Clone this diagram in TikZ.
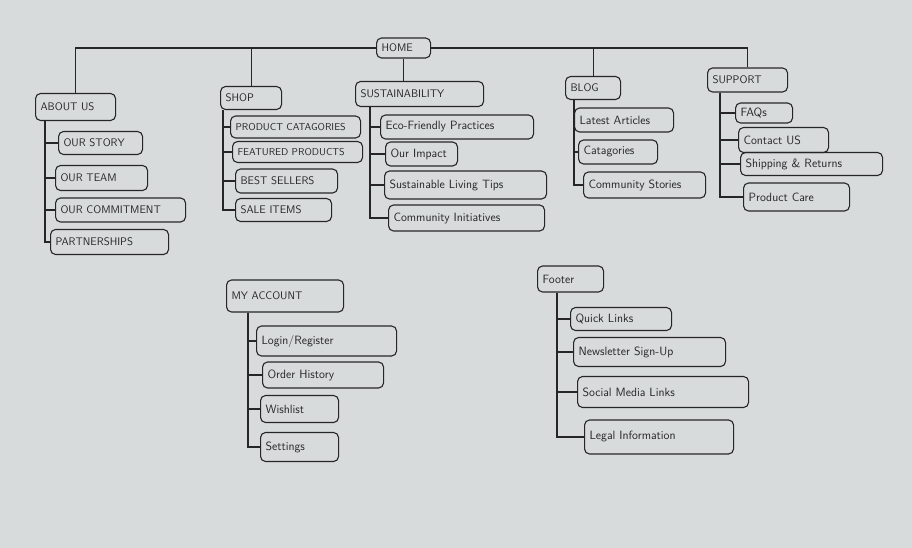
\documentclass[tikz,border=0pt]{standalone}
\usepackage{tikz}
\usetikzlibrary{positioning}
\definecolor{paper}{RGB}{216,219,219}
\definecolor{ink}{RGB}{38,38,38}
\tikzset{
  page/.style={draw=ink, rounded corners=5pt, line width=1.1pt, inner xsep=5pt, inner ysep=3pt, anchor=west, align=left, text=ink, font=\sffamily\fontsize{11}{13}\selectfont},
  wordy/.style={page, font=\sffamily\large},
  link/.style={draw=ink, line width=1.1pt}
}

\begin{document}
\begin{tikzpicture}[x=1pt, y=-1pt]
  \fill[paper] (0,0) rectangle (912,548);
  \useasboundingbox (0,0) rectangle (912,548);

  % Top level
  \node[page, text width=44, minimum height=20] (home) at (376,48) {HOME};
  \node[page, text width=70, minimum height=27] (aboutus) at (35,107) {ABOUT US};
  \node[page, text width=51, minimum height=23] (shop) at (220,98) {SHOP};
  \node[page, text width=118, minimum height=25] (sust) at (355,94) {SUSTAINABILITY};
  \node[page, text width=45, minimum height=23] (blog) at (565,88) {BLOG};
  \node[page, text width=70, minimum height=24] (support) at (707,80) {SUPPORT};

  \draw[link] (aboutus.north) |- (home.west);
  \draw[link] (shop.north) -- (shop.north |- home.west);
  \draw[link] (home) -- (home |- sust.north);
  \draw[link] (support.north) |- (home.east);
  \draw[link] (blog.north) -- (blog.north |- home.east);

  % About us
  \node[page, text width=74, minimum height=23] (ourstory) at (58,143) {OUR STORY};
  \node[page, text width=82, minimum height=25] (ourteam) at (55,178) {OUR TEAM};
  \node[page, text width=120, minimum height=24] (commit) at (55,210) {OUR COMMITMENT};
  \node[page, text width=108, minimum height=25] (partner) at (50,242) {PARTNERSHIPS};
  \foreach \c in {ourstory,ourteam,commit,partner}
    \draw[link] ([xshift=10]aboutus.south west) |- (\c.west);

  % Shop
  \node[page, font=\sffamily, text width=120, minimum height=22] (prodcat) at (230,127) {PRODUCT CATAGORIES};
  \node[page, font=\sffamily, text width=120, minimum height=21] (featured) at (232,152) {FEATURED PRODUCTS};
  \node[page, text width=92, minimum height=24] (best) at (235,181) {BEST SELLERS};
  \node[page, text width=86, minimum height=23] (sale) at (235,210) {SALE ITEMS};
  \foreach \c in {prodcat,featured,best,sale}
    \draw[link] ([xshift=3]shop.south west) |- (\c.west);

  % Sustainability
  \node[wordy, text width=143, minimum height=24] (eco) at (380,127) {Eco-Friendly Practices};
  \node[wordy, text width=62, minimum height=24] (impact) at (385,154) {Our Impact};
  \node[wordy, text width=152, minimum height=28] (tips) at (384,185) {Sustainable Living Tips};
  \node[wordy, text width=146, minimum height=26] (initiat) at (388,218) {Community Initiatives};
  \foreach \c in {eco,impact,tips,initiat}
    \draw[link] ([xshift=15]sust.south west) |- (\c.west);

  % Blog
  \node[wordy, text width=89, minimum height=24] (latest) at (574,120) {Latest Articles};
  \node[wordy, text width=69, minimum height=24] (categ) at (578,152) {Catagories};
  \node[wordy, text width=112, minimum height=26] (stories) at (583,185) {Community Stories};
  \foreach \c in {latest,categ,stories}
    \draw[link] ([xshift=9]blog.south west) |- (\c.west);

  % Support
  \node[wordy, text width=47, minimum height=20] (faqs) at (735,113) {FAQs};
  \node[wordy, text width=80, minimum height=25] (contact) at (738,140) {Contact US};
  \node[wordy, text width=132, minimum height=23] (shipping) at (740,164) {Shipping \& Returns};
  \node[wordy, text width=96, minimum height=28] (care) at (743,197) {Product Care};
  \foreach \c in {faqs,contact,shipping,care}
    \draw[link] ([xshift=13]support.south west) |- (\c.west);

  % My account
  \node[page, text width=107, minimum height=32] (account) at (226,296) {MY ACCOUNT};
  \node[wordy, text width=130, minimum height=30] (login) at (256,341) {Login/Register};
  \node[wordy, text width=111, minimum height=26] (orders) at (262,375) {Order History};
  \node[wordy, text width=68, minimum height=27] (wish) at (260,409) {Wishlist};
  \node[wordy, text width=68, minimum height=29] (settings) at (260,447) {Settings};
  \foreach \c in {login,orders,wish,settings}
    \draw[link] ([xshift=22]account.south west) |- (\c.west);

  % Footer
  \node[wordy, text width=56, minimum height=26] (footer) at (537,279) {Footer};
  \node[wordy, text width=91, minimum height=23] (quick) at (570,319) {Quick Links};
  \node[wordy, text width=142, minimum height=29] (news) at (573,352) {Newsletter Sign-Up};
  \node[wordy, text width=161, minimum height=31] (social) at (577,392) {Social Media Links};
  \node[wordy, text width=139, minimum height=34] (legal) at (584,437) {Legal Information};
  \foreach \c in {quick,news,social,legal}
    \draw[link] ([xshift=20]footer.south west) |- (\c.west);
\end{tikzpicture}
\end{document}
